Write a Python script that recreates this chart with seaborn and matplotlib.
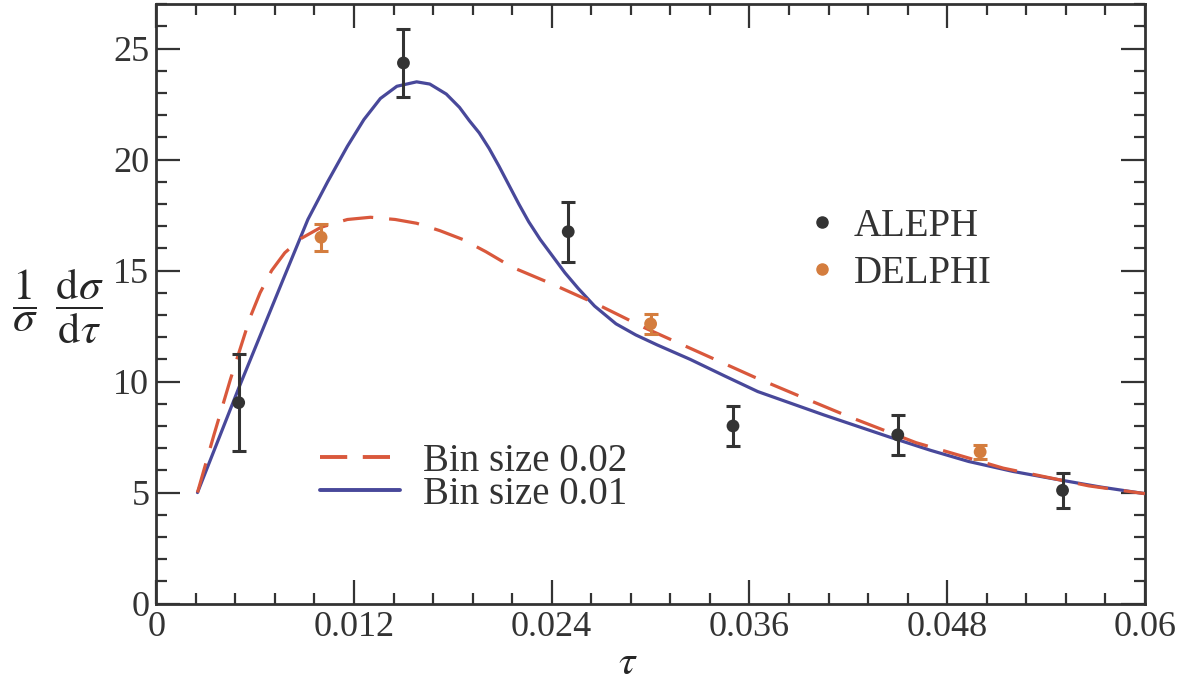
import numpy as np
import pandas as pd
import matplotlib
matplotlib.use("Agg")
import matplotlib.pyplot as plt
from matplotlib.lines import Line2D
from matplotlib.ticker import MultipleLocator, FixedLocator, FixedFormatter
import seaborn as sns

# Theory curves: thrust-like distribution for two bin sizes
tau_fine = [0.0025, 0.0050, 0.0077, 0.0092, 0.0104, 0.0116, 0.0126, 0.0136,
            0.0146, 0.0158, 0.0166, 0.0176, 0.0184, 0.0190, 0.0196, 0.0202,
            0.0208, 0.0214, 0.0220, 0.0226, 0.0233, 0.0240, 0.0248, 0.0256,
            0.0266, 0.0279, 0.0291, 0.0304, 0.0324, 0.0345, 0.0365, 0.0405,
            0.0445, 0.0470, 0.0493, 0.0520, 0.0546, 0.0573, 0.0600]
sig_fine = [5.0, 9.7, 14.6, 17.3, 19.0, 20.6, 21.8, 22.75,
            23.3, 23.5, 23.4, 22.95, 22.35, 21.75, 21.2, 20.5,
            19.7, 18.85, 18.0, 17.2, 16.4, 15.7, 14.9, 14.2,
            13.4, 12.6, 12.1, 11.65, 11.0, 10.25, 9.55, 8.5,
            7.5, 6.9, 6.4, 5.95, 5.6, 5.25, 4.95]

tau_coarse = [0.0025, 0.0035, 0.0045, 0.0051, 0.0057, 0.0063, 0.0070, 0.0078,
              0.0088, 0.0100, 0.0116, 0.0130, 0.0145, 0.0158, 0.0172, 0.0186,
              0.0200, 0.0216, 0.0240, 0.0267, 0.0297, 0.0330, 0.0363, 0.0395,
              0.0421, 0.0461, 0.0514, 0.0566, 0.0600]
sig_coarse = [5.0, 7.6, 10.1, 11.5, 12.9, 14.0, 15.0, 15.8,
              16.45, 16.95, 17.3, 17.4, 17.3, 17.13, 16.8, 16.4,
              15.85, 15.15, 14.4, 13.5, 12.4, 11.3, 10.2, 9.2,
              8.4, 7.25, 6.1, 5.3, 4.95]

# Measurements
aleph_tau = [0.005, 0.015, 0.025, 0.035, 0.045, 0.055]
aleph_val = [9.05, 24.35, 16.75, 8.0, 7.6, 5.1]
aleph_err = [2.2, 1.55, 1.35, 0.9, 0.9, 0.8]

delphi_tau = [0.010, 0.030, 0.050]
delphi_val = [16.5, 12.6, 6.83]
delphi_err = [0.6, 0.45, 0.3]

x_ticks = [0, 0.012, 0.024, 0.036, 0.048, 0.06]
x_tick_labels = ["0", "0.012", "0.024", "0.036", "0.048", "0.06"]
y_ticks = [0, 5, 10, 15, 20, 25]

BLUE = "#48489a"
RED = "#d9583c"
ORANGE = "#d47d3e"
DARK = "#333333"

sns.set_style("ticks")
plt.rcParams["font.family"] = ["Liberation Serif", "DejaVu Serif"]
plt.rcParams["mathtext.fontset"] = "stix"
plt.rcParams["axes.edgecolor"] = "#333333"
plt.rcParams["xtick.color"] = "#333333"
plt.rcParams["ytick.color"] = "#333333"
plt.rcParams["text.color"] = "#333333"

fig = plt.figure(figsize=(11.84, 6.89), dpi=100)
ax = fig.add_axes([0.132, 0.124, 0.835, 0.870])

fine = pd.DataFrame({"tau": tau_fine, "sig": sig_fine})
coarse = pd.DataFrame({"tau": tau_coarse, "sig": sig_coarse})

sns.lineplot(data=fine, x="tau", y="sig", ax=ax, color=BLUE, lw=2.3,
             sort=False, zorder=3)
sns.lineplot(data=coarse, x="tau", y="sig", ax=ax, color=RED, lw=2.3,
             sort=False, zorder=3)
ax.lines[-1].set_dashes((9.5, 5))

ax.errorbar(aleph_tau, aleph_val, yerr=aleph_err, fmt="none", ecolor=DARK,
            elinewidth=2.2, capsize=5, capthick=2.2, zorder=4)
ax.errorbar(delphi_tau, delphi_val, yerr=delphi_err, fmt="none", ecolor=ORANGE,
            elinewidth=2.2, capsize=5, capthick=2.2, zorder=4)
sns.scatterplot(x=aleph_tau, y=aleph_val, ax=ax, color=DARK, s=85,
                edgecolor="none", zorder=5)
sns.scatterplot(x=delphi_tau, y=delphi_val, ax=ax, color=ORANGE, s=85,
                edgecolor="none", zorder=5)

ax.set_xlim(0, 0.06)
ax.set_ylim(0, 27)
ax.xaxis.set_major_locator(FixedLocator(x_ticks))
ax.xaxis.set_major_formatter(FixedFormatter(x_tick_labels))
ax.xaxis.set_minor_locator(MultipleLocator(0.0024))
ax.yaxis.set_major_locator(FixedLocator(y_ticks))
ax.yaxis.set_minor_locator(MultipleLocator(1))
ax.tick_params(which="both", direction="in", top=True, right=True,
               labelsize=26, width=1.6, pad=5)
ax.tick_params(which="major", length=17)
ax.tick_params(which="minor", length=8)
for sp in ax.spines.values():
    sp.set_linewidth(2.0)
    sp.set_visible(True)

ax.set_xlabel(r"$\tau$", fontsize=30)
ax.xaxis.set_label_coords(0.477, -0.068)
ax.set_ylabel(r"$\dfrac{1}{\sigma}\ \,\dfrac{\mathrm{d}\sigma}{\mathrm{d}\tau}$",
              fontsize=32, rotation=0, va="center", ha="center")
ax.yaxis.set_label_coords(-0.100, 0.497)

data_handles = [
    Line2D([], [], ls="none", marker="o", ms=8, color=DARK, label="ALEPH"),
    Line2D([], [], ls="none", marker="o", ms=8, color=ORANGE, label="DELPHI"),
]
leg1 = ax.legend(handles=data_handles, loc="center left",
                 bbox_to_anchor=(0.658, 0.590), frameon=False, fontsize=28,
                 handlelength=0.8, handletextpad=0.4, labelspacing=0.25,
                 borderaxespad=0, borderpad=0)
ax.add_artist(leg1)

line_handles = [
    Line2D([], [], color=RED, lw=2.8, dashes=(7, 4), label="Bin size 0.02"),
    Line2D([], [], color=BLUE, lw=2.8, label="Bin size 0.01"),
]
ax.legend(handles=line_handles, loc="center left", bbox_to_anchor=(0.166, 0.21),
          frameon=False, fontsize=28, handlelength=2.05, handletextpad=0.6,
          labelspacing=-0.1, borderaxespad=0, borderpad=0)

fig.savefig("out.png", dpi=100)
